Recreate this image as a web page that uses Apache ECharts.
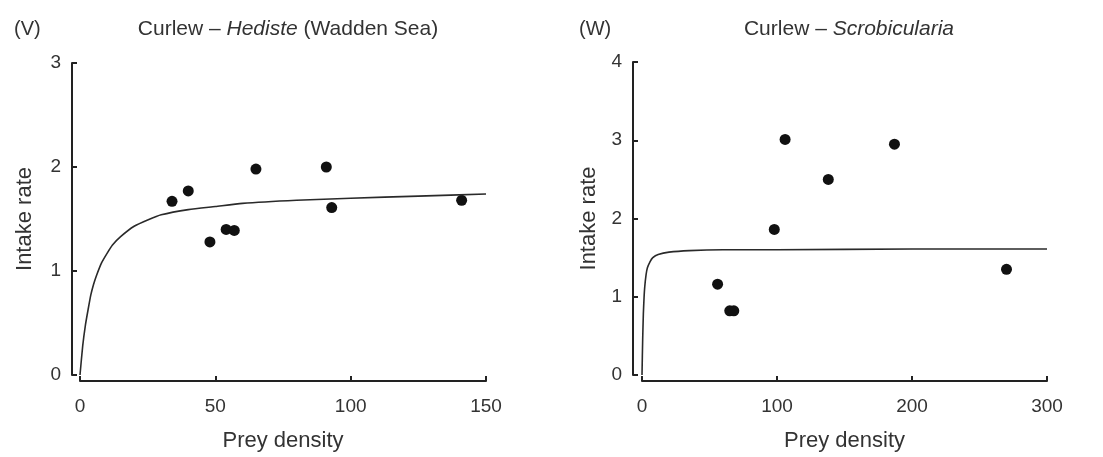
<!DOCTYPE html>
<html>
<head>
<meta charset="utf-8">
<script src="https://cdn.jsdelivr.net/npm/echarts@6/dist/echarts.min.js"></script>
<style>
html,body{margin:0;padding:0;background:#fff;}
#chart{width:1103px;height:457px;}
</style>
</head>
<body>
<div id="chart"></div>
<script>
// Panel V: Curlew – Hediste (Wadden Sea)
const hedisteDensity = [34, 40, 48, 54, 57, 65, 91, 93, 141];
const hedisteIntake  = [1.67, 1.77, 1.28, 1.40, 1.39, 1.98, 2.00, 1.61, 1.68];
const hedisteCurveX  = [0, 1, 2, 3, 4, 5, 6, 8, 10, 12, 15, 20, 25, 30, 40, 50, 60, 80, 100, 125, 150];
const hedisteCurveY  = [0, 0.28, 0.48, 0.63, 0.77, 0.87, 0.95, 1.08, 1.17, 1.25, 1.33, 1.43, 1.49, 1.54, 1.59, 1.62, 1.65, 1.68, 1.70, 1.72, 1.74];

// Panel W: Curlew – Scrobicularia
const scrobDensity = [56, 65, 68, 98, 106, 138, 187, 270];
const scrobIntake  = [1.16, 0.82, 0.82, 1.86, 3.01, 2.50, 2.95, 1.35];
const scrobCurveX  = [0, 0.5, 1, 1.5, 2, 3, 4, 6, 8, 12, 20, 35, 60, 100, 200, 300];
const scrobCurveY  = [0, 0.45, 0.78, 0.98, 1.12, 1.28, 1.37, 1.45, 1.50, 1.54, 1.57, 1.59, 1.60, 1.60, 1.61, 1.61];

const xTicksV = [0, 50, 100, 150];
const yTicksV = [0, 1, 2, 3];
const xTicksW = [0, 100, 200, 300];
const yTicksW = [0, 1, 2, 3, 4];

const FONT = 'Liberation Sans';
const TXT = '#333';
const AX = '#222';

function zip(a, b) { return a.map((v, i) => [v, b[i]]); }

function xAx(idx, ticks) {
  return {
    type: 'value', gridIndex: idx,
    min: ticks[0], max: ticks[ticks.length - 1], interval: ticks[1] - ticks[0],
    offset: 6,
    name: 'Prey density', nameLocation: 'middle', nameGap: 49,
    nameTextStyle: { fontFamily: FONT, fontSize: 22, color: TXT },
    axisLine: { show: true, onZero: false, lineStyle: { color: AX, width: 2 } },
    axisTick: { show: true, inside: true, length: 5, lineStyle: { color: AX, width: 2 } },
    axisLabel: { fontFamily: FONT, fontSize: 19, color: TXT, margin: 16 },
    splitLine: { show: false }
  };
}
function yAx(idx, ticks, off, gap) {
  return {
    type: 'value', gridIndex: idx,
    min: ticks[0], max: ticks[ticks.length - 1], interval: ticks[1] - ticks[0],
    offset: off,
    name: 'Intake rate', nameLocation: 'middle', nameGap: gap,
    nameTextStyle: { fontFamily: FONT, fontSize: 22, color: TXT },
    axisLine: { show: true, onZero: false, lineStyle: { color: AX, width: 2 } },
    axisTick: { show: true, inside: true, length: 5, lineStyle: { color: AX, width: 2 } },
    axisLabel: { fontFamily: FONT, fontSize: 19, color: TXT, margin: 11 },
    splitLine: { show: false }
  };
}

const rich = {
  n: { fontFamily: FONT, fontSize: 21, color: TXT, fontWeight: 'normal' },
  i: { fontFamily: FONT, fontSize: 21, color: TXT, fontWeight: 'normal', fontStyle: 'italic' }
};

const chart = echarts.init(document.getElementById('chart'), null, { renderer: 'canvas' });
chart.setOption({
  animation: false,
  backgroundColor: '#fff',
  title: [
    { text: '(V)', left: 9, top: 14, textStyle: { fontFamily: FONT, fontSize: 20, color: TXT, fontWeight: 'normal' } },
    { text: '(W)', left: 574, top: 14, textStyle: { fontFamily: FONT, fontSize: 20, color: TXT, fontWeight: 'normal' } },
    { text: '{n|Curlew – }{i|Hediste}{n| (Wadden Sea)}', left: 283, top: 14, textAlign: 'center',
      textStyle: { fontWeight: 'normal', rich: rich } },
    { text: '{n|Curlew – }{i|Scrobicularia}', left: 844, top: 14, textAlign: 'center',
      textStyle: { fontWeight: 'normal', rich: rich } }
  ],
  grid: [
    { left: 80, top: 63, width: 406, height: 319 },
    { left: 642, top: 62, width: 405, height: 320 }
  ],
  xAxis: [xAx(0, xTicksV), xAx(1, xTicksW)],
  yAxis: [yAx(0, yTicksV, 8, 36), yAx(1, yTicksW, 9, 33)],
  series: [
    { type: 'line', xAxisIndex: 0, yAxisIndex: 0, data: zip(hedisteCurveX, hedisteCurveY),
      smooth: 0.2, showSymbol: false, symbol: 'none',
      lineStyle: { color: '#2a2a2a', width: 1.6 } },
    { type: 'scatter', xAxisIndex: 0, yAxisIndex: 0, data: zip(hedisteDensity, hedisteIntake),
      symbolSize: 11, itemStyle: { color: '#111', opacity: 1 } },
    { type: 'line', xAxisIndex: 1, yAxisIndex: 1, data: zip(scrobCurveX, scrobCurveY),
      smooth: 0.2, showSymbol: false, symbol: 'none',
      lineStyle: { color: '#2a2a2a', width: 1.6 } },
    { type: 'scatter', xAxisIndex: 1, yAxisIndex: 1, data: zip(scrobDensity, scrobIntake),
      symbolSize: 11, itemStyle: { color: '#111', opacity: 1 } }
  ]
});
</script>
</body>
</html>
